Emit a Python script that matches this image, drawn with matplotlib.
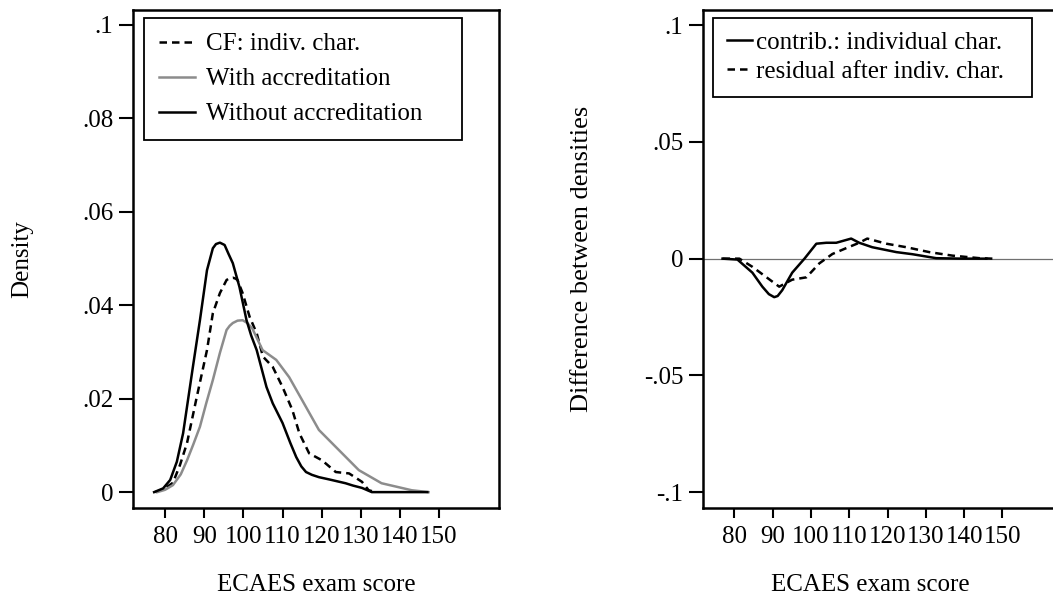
import numpy as np
import matplotlib
matplotlib.use("Agg")
import matplotlib.pyplot as plt

plt.rcParams['font.family'] = ['Liberation Serif', 'DejaVu Serif']

# left panel: kernel densities of exam score
without_x = [77.2, 79.5, 81.3, 83.0, 84.6, 87.1, 88.9, 90.7, 92.2, 93.0, 94.0, 95.2, 96.2,
             97.3, 99.0, 100.8, 102.0, 103.4, 105.9, 107.5, 110.0, 112.0, 113.5, 114.8,
             116.0, 117.5, 119.3, 122.0, 126.1, 128.0, 130.3, 132.8, 143.0, 147.0]
without_y = [0.0, 0.0008, 0.0026, 0.0065, 0.0126, 0.0268, 0.0368, 0.0475, 0.0522, 0.0531,
             0.0534, 0.0529, 0.051, 0.049, 0.0439, 0.0368, 0.0335, 0.0304, 0.0225, 0.019,
             0.0148, 0.0105, 0.0075, 0.0055, 0.0043, 0.0037, 0.0032, 0.0027, 0.0019,
             0.0014, 0.0009, 0.0, 0.0, 0.0]

cf_x = [77.5, 79.8, 82.0, 83.8, 85.6, 88.1, 90.7, 92.2, 94.0, 95.7, 96.5, 97.3, 98.0, 98.5,
        99.8, 101.6, 103.4, 105.0, 107.5, 110.0, 112.5, 114.3, 116.8, 120.1, 123.6, 127.0,
        130.3, 132.0, 133.8]
cf_y = [0.0, 0.0007, 0.002, 0.0058, 0.0105, 0.0204, 0.0304, 0.0383, 0.0426, 0.0454, 0.0458,
        0.0459, 0.0457, 0.0454, 0.0426, 0.0375, 0.034, 0.029, 0.0268, 0.0225, 0.0176,
        0.0126, 0.0083, 0.0068, 0.0043, 0.004, 0.0022, 0.0004, 0.0]

with_x = [78.0, 80.0, 82.0, 84.0, 85.6, 87.2, 88.9, 90.5, 92.2, 94.0, 95.7, 96.5, 97.3,
          98.5, 99.8, 101.0, 102.3, 104.9, 108.4, 111.7, 115.0, 119.3, 124.4, 129.5, 135.3,
          143.0, 147.3]
with_y = [0.0, 0.0005, 0.0015, 0.0038, 0.0068, 0.0102, 0.014, 0.019, 0.024, 0.0298, 0.0347,
          0.0356, 0.0362, 0.0367, 0.0368, 0.0362, 0.035, 0.0304, 0.0283, 0.0246, 0.0197,
          0.0133, 0.009, 0.0047, 0.0019, 0.0004, 0.0]

# right panel: differences between densities
contrib_x = [76.9, 80.8, 84.7, 87.3, 89.0, 90.4, 91.3, 92.5, 95.1, 98.3, 101.4, 104.0,
             106.6, 110.5, 112.6, 116.0, 122.3, 126.5, 132.7, 139.5, 145.8]
contrib_y = [0.0, -0.0004, -0.006, -0.012, -0.0152, -0.0165, -0.016, -0.0135, -0.006, 0.0,
             0.0064, 0.0068, 0.0068, 0.0086, 0.0068, 0.0049, 0.0028, 0.0019, 0.0002, 0.0, 0.0]

resid_x = [76.9, 81.3, 84.7, 88.4, 91.7, 95.1, 98.8, 102.2, 105.6, 109.2, 112.6, 114.7,
           119.7, 124.9, 130.9, 136.9, 144.0, 147.4]
resid_y = [0.0, 0.0, -0.0035, -0.008, -0.012, -0.009, -0.008, -0.002, 0.002, 0.0045,
           0.0068, 0.0086, 0.0064, 0.0049, 0.0028, 0.0013, 0.0002, 0.0]

xticks = [80, 90, 100, 110, 120, 130, 140, 150]
left_yticks = [0, 0.02, 0.04, 0.06, 0.08, 0.1]
left_ylabels = ['0', '.02', '.04', '.06', '.08', '.1']
right_yticks = [-0.1, -0.05, 0, 0.05, 0.1]
right_ylabels = ['-.1', '-.05', '0', '.05', '.1']

fs = 18
lw = 1.8
gray = '#8c8c8c'
line_kw = dict(lw=lw, solid_joinstyle='round', dash_joinstyle='round')

fig = plt.figure(figsize=(10.53, 5.99), dpi=100)
ax1 = fig.add_axes([133/1053, 91/599, 366/1053, 498/599])
ax2 = fig.add_axes([703/1053, 91/599, 358/1053, 498/599])

ax1.plot(cf_x, cf_y, color='black', dashes=(3, 2), label='CF: indiv. char.', **line_kw)
ax1.plot(with_x, with_y, color=gray, label='With accreditation', **line_kw)
ax1.plot(without_x, without_y, color='black', label='Without accreditation', **line_kw)
ax1.set_ylim(-0.0034, 0.1032)
ax1.set_yticks(left_yticks)
ax1.set_yticklabels(left_ylabels)
ax1.set_ylabel('Density', fontsize=fs)
ax1.yaxis.set_label_coords(-0.303, 0.5)

ax2.axhline(0, color='#707070', lw=0.9)
ax2.plot(contrib_x, contrib_y, color='black', label='contrib.: individual char.', **line_kw)
ax2.plot(resid_x, resid_y, color='black', dashes=(3, 2), label='residual after indiv. char.', **line_kw)
ax2.set_ylim(-0.1068, 0.1065)
ax2.set_yticks(right_yticks)
ax2.set_yticklabels(right_ylabels)
ax2.set_ylabel('Difference between densities', fontsize=fs + 1)
ax2.yaxis.set_label_coords(-0.338, 0.5)

for ax in (ax1, ax2):
    ax.set_xlim(71.8, 165.3)
    ax.set_xticks(xticks)
    ax.set_xticklabels([str(t) for t in xticks])
    ax.set_xlabel('ECAES exam score', fontsize=fs)
    ax.yaxis.label.set_va('center')
    ax.xaxis.label.set_va('center')
    ax.tick_params(axis='both', labelsize=fs, color='black', width=1.5)
    ax.tick_params(axis='y', length=10, pad=4)
    ax.tick_params(axis='x', length=7, pad=6)
    for s in ax.spines.values():
        s.set_linewidth(1.8)

ax1.xaxis.set_label_coords(0.5, -0.155)
ax2.xaxis.set_label_coords(0.466, -0.155)

leg1 = ax1.legend(loc='upper left', bbox_to_anchor=(0.03, 0.984, 0.869, 0.0), mode='expand',
                  borderaxespad=0, fontsize=fs, frameon=True, fancybox=False,
                  edgecolor='black', framealpha=1, handlelength=1.45, handletextpad=0.45,
                  labelspacing=0.5, borderpad=0.6)
leg1.get_frame().set_linewidth(1.3)
leg2 = ax2.legend(loc='upper left', bbox_to_anchor=(0.028, 0.984, 0.891, 0.0), mode='expand',
                  borderaxespad=0, fontsize=fs, frameon=True, fancybox=False,
                  edgecolor='black', framealpha=1, handlelength=1.0, handletextpad=0.15,
                  labelspacing=0.25, borderpad=0.55)
leg2.get_frame().set_linewidth(1.3)

fig.savefig('out.png', dpi=100)
